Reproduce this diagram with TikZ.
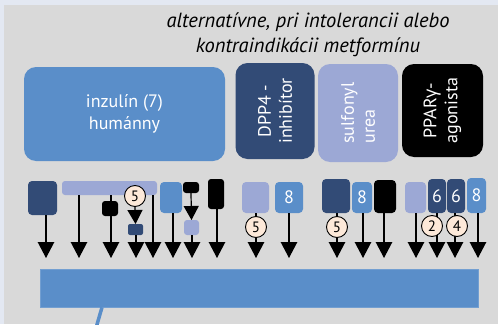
\documentclass[tikz,border=0pt]{standalone}
\usepackage{fontspec}
\setmainfont{PT Sans}
\newfontfamily\gfont{Open Sans}
\usetikzlibrary{arrows.meta}
\definecolor{bgout}{HTML}{E3E8F2}
\definecolor{panel}{HTML}{D9D9D9}
\definecolor{mblue}{HTML}{5A8EC9}
\definecolor{navy}{HTML}{324B76}
\definecolor{lav}{HTML}{9CA8D5}
\definecolor{peach}{HTML}{FDE9D9}
\begin{document}
\begin{tikzpicture}[x=1pt,y=-1pt,
  box/.style={rounded corners=4pt, inner sep=0pt, outer sep=0pt, text=white, font=\fontsize{18}{18}\selectfont},
  big/.style={rounded corners=12pt, inner sep=0pt, outer sep=0pt, text=white, align=center, font=\fontsize{18}{21}\selectfont},
  num/.style={circle, draw=black, fill=peach, line width=0.9pt, minimum size=21pt, inner sep=0pt, font=\fontsize{15}{15}\selectfont},
  arr/.style={line width=1.2pt, -{Triangle[width=16.5pt,length=16pt]}},
  ln/.style={line width=1.2pt}]
\useasboundingbox (0,0) rectangle (498,324);
\fill[bgout] (0,0) rectangle (498,324);
\fill[panel] (4,5) rectangle (498,324);
% title
\node[align=center, font=\fontsize{20.5}{25}\selectfont\itshape] (title) at (308,34.5) {alternatívne, pri intolerancii alebo\\kontraindikácii metformínu};
% big boxes
\node[big, fill=mblue, font=\fontsize{18}{22}\selectfont, minimum width=201pt, minimum height=94pt] (inz) at (124.5,114) {inzulín (7)\\humánny};
\node[big, fill=navy, rotate=90, minimum width=96pt, minimum height=79pt] (dpp) at (275,111) {DPP4 -\\inhibítor};
\node[big, fill=lav, rotate=90, align=left, minimum width=98pt, minimum height=80pt] (sulf) at (358,113) {sulfonyl\\urea};
\node[big, fill=black, rotate=90, minimum width=93pt, minimum height=81pt] (ppar) at (442.5,110.5) {PPAR{\gfont γ}-\\agonista};
% bottom bar
\node[fill=mblue, draw=mblue!85!white, line width=0.6pt, minimum width=438pt, minimum height=38pt, inner sep=0pt] (bar) at (259,288) {};
\coordinate (ls) at (102,0);
\coordinate (lend) at (96,328);
\draw[mblue, line width=3.5pt] (bar.south -| ls) -- (lend);
% tips
\foreach \n/\x in {a/46,b1/79,c/111,d/136,b2/153,e/173,g/192,h/217,i/256,j/289,k/337,l/363,m/384,n/416,o/437,p/455,q/478}
  {\coordinate (t\n) at (\x,258);}
% small boxes
\node[box, fill=navy, minimum width=29pt, minimum height=34pt] (A) at (42.5,198) {};
\node[box, fill=lav, rounded corners=3pt, minimum width=95pt, minimum height=14pt] (B) at (109.5,188) {};
\node[box, fill=black, rounded corners=3pt, minimum width=16pt, minimum height=15pt] (C) at (110,208.5) {};
\node[box, fill=navy, rounded corners=2pt, minimum width=15pt, minimum height=11pt] (D) at (135.5,229.5) {};
\node[box, fill=mblue, minimum width=22pt, minimum height=31pt] (E) at (171,197.5) {};
\node[box, fill=black, rounded corners=3pt, minimum width=16pt, minimum height=11pt] (F) at (191,187.5) {};
\node[box, fill=lav, rounded corners=3pt, minimum width=15pt, minimum height=15pt] (G) at (191.5,227.5) {};
\node[box, fill=black, rounded corners=3pt, minimum width=16pt, minimum height=30pt] (H) at (216,194) {};
\node[box, fill=lav, minimum width=27pt, minimum height=31pt] (I) at (255.5,197.5) {};
\node[box, fill=mblue, minimum width=28pt, minimum height=31pt] (J) at (289,197.5) {8};
\node[box, fill=navy, minimum width=28pt, minimum height=34pt] (K) at (336,196) {};
\node[box, fill=mblue, minimum width=20pt, minimum height=31pt] (L) at (362,197.5) {8};
\node[box, fill=black, minimum width=22pt, minimum height=33pt] (M) at (385,196.5) {};
\node[box, fill=lav, minimum width=21pt, minimum height=31pt] (N) at (415.5,197.5) {};
\node[box, fill=navy, minimum width=18pt, minimum height=34pt] (O) at (437,196) {6};
\node[box, fill=navy, minimum width=18pt, minimum height=34pt] (P) at (456,196) {6};
\node[box, fill=mblue, minimum width=19pt, minimum height=35pt] (Q) at (476.5,195.5) {8};
% arrows
\draw[arr] (A.south -| ta) -- (ta);
\draw[arr] (B.south -| tb1) -- (tb1);
\draw[arr] (B.south -| tb2) -- (tb2);
\draw[ln] (B.south -| tc) -- (C.north -| tc);
\draw[arr] (C.south -| tc) -- (tc);
\node[num] (c5a) at (135,196) {5};
\draw[arr, -{Triangle[width=15pt,length=14pt]}] (c5a.south) -- (D.north);
\draw[arr] (D.south -| td) -- (td);
\draw[arr] (E.south -| te) -- (te);
\draw[arr, -{Triangle[width=15pt,length=14pt]}] (F.south) -- (G.north);
\draw[arr] (G.south -| tg) -- (tg);
\draw[arr] (H.south -| th) -- (th);
\draw[arr] (I.south -| ti) -- (ti);
\draw[arr] (J.south -| tj) -- (tj);
\draw[arr] (K.south -| tk) -- (tk);
\draw[arr] (L.south -| tl) -- (tl);
\draw[arr] (M.south -| tm) -- (tm);
\draw[arr] (N.south -| tn) -- (tn);
\draw[arr] (O.south -| to) -- (to);
\draw[arr] (P.south -| tp) -- (tp);
\draw[arr] (Q.south -| tq) -- (tq);
\node[num] (c5b) at (256,227) {5};
\node[num] (c5c) at (337,227) {5};
\node[num] (c2) at (432,226) {2};
\node[num] (c4) at (457,226) {4};
\end{tikzpicture}
\end{document}
